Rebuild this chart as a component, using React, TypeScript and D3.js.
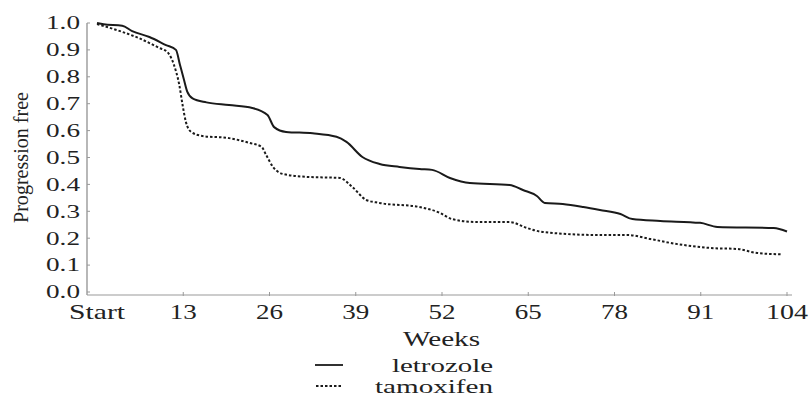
import React from "react";
import * as d3 from "d3";

const xTickValues = [0, 13, 26, 39, 52, 65, 78, 91, 104];
const xTickLabels = ["Start", "13", "26", "39", "52", "65", "78", "91", "104"];
const yTickValues = [0, 0.1, 0.2, 0.3, 0.4, 0.5, 0.6, 0.7, 0.8, 0.9, 1.0];

const letrozoleWeeks = [0, 1, 3.8, 5.3, 7.9, 10.4, 11.9, 12.5, 13.1, 13.6, 14.4, 16.5, 19.9, 23.4, 25.7, 26.7, 28.5, 32.5, 36.1, 37.6, 40, 42.6, 45.6, 48.6, 50.5, 53.2, 56.2, 62.2, 64.2, 66.3, 67.5, 70.2, 73.3, 75.8, 78.9, 80.7, 84.9, 90.9, 93.5, 102, 104];
const letrozoleValues = [1.0, 0.995, 0.99, 0.97, 0.948, 0.918, 0.9, 0.845, 0.79, 0.745, 0.72, 0.705, 0.695, 0.684, 0.658, 0.613, 0.595, 0.59, 0.577, 0.558, 0.502, 0.476, 0.465, 0.457, 0.454, 0.424, 0.405, 0.398, 0.379, 0.357, 0.331, 0.327, 0.316, 0.305, 0.29, 0.271, 0.264, 0.257, 0.242, 0.238, 0.225];

const tamoxifenWeeks = [0, 3.8, 6.3, 9.4, 10.6, 11.6, 12.4, 12.9, 13.4, 14.2, 15.9, 19.9, 23, 24.8, 25.5, 26.5, 28, 31.6, 36.6, 38.5, 40.6, 42.6, 48.6, 51.7, 53.5, 57.3, 62.2, 64.8, 67.2, 75.4, 79.9, 83.4, 87.5, 92.9, 96.5, 99.5, 103.3];
const tamoxifenValues = [0.996, 0.967, 0.944, 0.907, 0.892, 0.844, 0.77, 0.695, 0.632, 0.595, 0.58, 0.572, 0.554, 0.54, 0.509, 0.466, 0.439, 0.428, 0.424, 0.39, 0.342, 0.331, 0.316, 0.294, 0.271, 0.26, 0.26, 0.238, 0.223, 0.212, 0.212, 0.197, 0.178, 0.163, 0.16, 0.145, 0.14];

const seriesNames = ["letrozole", "tamoxifen"];

const FONT = '"Liberation Serif", "DejaVu Serif", serif';

export default function App() {
  const W = 810, H = 398;
  const x = d3.scaleLinear().domain([0, 104]).range([97, 787]);
  const y = d3.scaleLinear().domain([0, 1]).range([292, 23]);
  const axisX = 87;
  const axisY = y(0) + 3;
  const fmt = d3.format(".1f");

  const line = d3.line<[number, number]>().x(d => x(d[0])).y(d => y(d[1])).curve(d3.curveMonotoneX);
  const letro = line(letrozoleWeeks.map((w, i) => [w, letrozoleValues[i]] as [number, number])) || "";
  const tamox = line(tamoxifenWeeks.map((w, i) => [w, tamoxifenValues[i]] as [number, number])) || "";

  const xLabelWidth = (s: string) => (s === "Start" ? 56 : s.length === 3 ? 42 : 27);
  const textStyle = { fontFamily: FONT };

  return (
    <svg width={W} height={H} style={{ position: "absolute", left: 0, top: 0, background: "#fff", fontFamily: FONT }}>
      <rect width={W} height={H} fill="#fff" />
      <line x1={axisX} x2={axisX} y1={y(1)} y2={axisY} stroke="#888" strokeWidth={1.2} />
      <line x1={axisX} x2={792} y1={axisY} y2={axisY} stroke="#999" strokeWidth={1.2} />
      {yTickValues.map(v => (
        <g key={"yt" + v}>
          <line x1={axisX} x2={axisX + 3} y1={y(v)} y2={y(v)} stroke="#999" strokeWidth={1} />
          <text x={46} y={y(v)} dy="0.35em" fontSize={18} fill="#222" style={textStyle} textLength={34} lengthAdjust="spacingAndGlyphs">
            {fmt(v)}
          </text>
        </g>
      ))}
      {xTickValues.map((v, i) => {
        const lw = xLabelWidth(xTickLabels[i]);
        return (
          <g key={"xt" + v}>
            {i > 0 && <line x1={x(v)} x2={x(v)} y1={axisY - 3} y2={axisY + 1} stroke="#999" strokeWidth={1} />}
            <text x={x(v) - lw / 2} y={319} fontSize={21} fill="#222" style={textStyle} textLength={lw} lengthAdjust="spacingAndGlyphs">
              {xTickLabels[i]}
            </text>
          </g>
        );
      })}
      <text x={403} y={346} fontSize={21} fill="#222" style={textStyle} textLength={77} lengthAdjust="spacingAndGlyphs">Weeks</text>
      <text transform="translate(28,223) rotate(-90)" fontSize={20} fill="#222" style={textStyle} textLength={131} lengthAdjust="spacingAndGlyphs">
        Progression free
      </text>
      <path d={letro} fill="none" stroke="#1a1a1a" strokeWidth={2} strokeLinejoin="round" />
      <path d={tamox} fill="none" stroke="#1a1a1a" strokeWidth={2} strokeDasharray="2.5,2" />
      <line x1={315} x2={343} y1={365} y2={365} stroke="#1a1a1a" strokeWidth={1.8} />
      <line x1={316} x2={343} y1={386} y2={386} stroke="#1a1a1a" strokeWidth={1.8} strokeDasharray="2.5,2" />
      <text x={392} y={372} fontSize={19} fill="#222" style={textStyle} textLength={101} lengthAdjust="spacingAndGlyphs">{seriesNames[0]}</text>
      <text x={375} y={393} fontSize={19} fill="#222" style={textStyle} textLength={118} lengthAdjust="spacingAndGlyphs">{seriesNames[1]}</text>
    </svg>
  );
}
